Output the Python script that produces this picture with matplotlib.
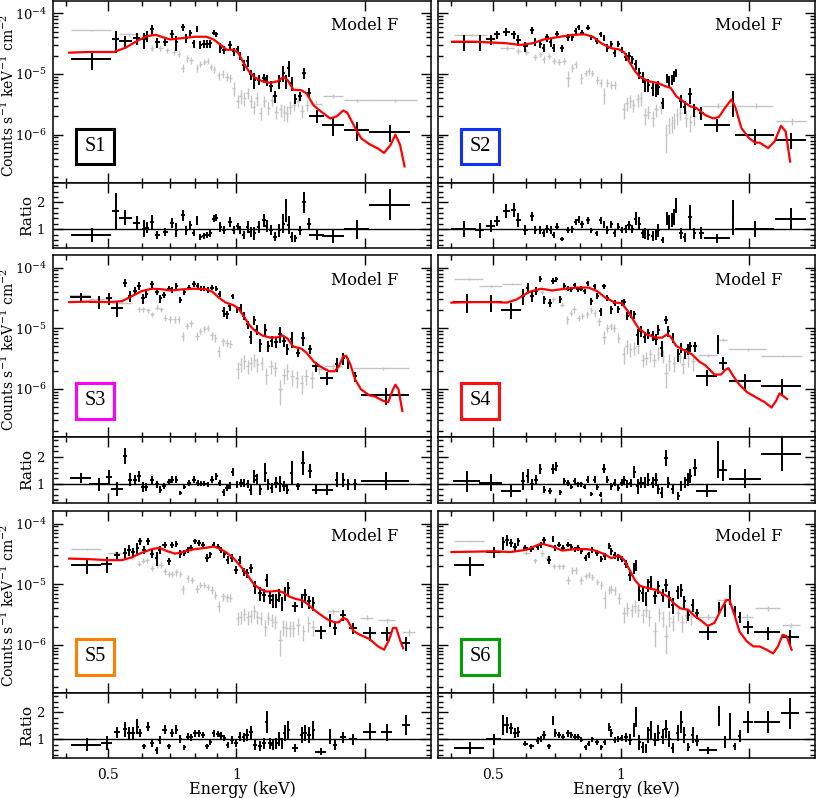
import matplotlib
matplotlib.use("Agg")
import matplotlib.pyplot as plt
import numpy as np
from matplotlib.ticker import FixedLocator, NullFormatter, FixedFormatter, LogLocator, MultipleLocator

plt.rcParams['font.family'] = 'DejaVu Serif'
plt.rcParams['mathtext.fontset'] = 'dejavuserif'

# ---------------- S1 ----------------
s1_E = [0.460, 0.5215, 0.550, 0.584, 0.607, 0.618, 0.635, 0.653, 0.682, 0.707, 0.724, 0.750, 0.764, 0.781, 0.795, 0.809, 0.824, 0.839, 0.854, 0.870, 0.885, 0.898, 0.917, 0.937, 0.965, 0.986, 1.007, 1.022, 1.040, 1.063, 1.082, 1.102, 1.128, 1.159, 1.179, 1.205, 1.233, 1.262, 1.290, 1.309, 1.327, 1.349, 1.374, 1.411, 1.442, 1.484, 1.543, 1.688, 1.914, 2.298]
s1_dE = [0.050, 0.010, 0.020, 0.012, 0.006, 0.006, 0.007, 0.009, 0.010, 0.008, 0.007, 0.008, 0.006, 0.007, 0.006, 0.006, 0.007, 0.007, 0.007, 0.007, 0.006, 0.006, 0.008, 0.009, 0.010, 0.008, 0.007, 0.006, 0.008, 0.009, 0.008, 0.009, 0.011, 0.012, 0.009, 0.011, 0.011, 0.012, 0.008, 0.008, 0.009, 0.010, 0.012, 0.014, 0.013, 0.016, 0.062, 0.100, 0.130, 0.250]
s1_cts = [1.78e-5, 3.7e-5, 3.5e-5, 3.9e-5, 3.7e-5, 4.2e-5, 5.4e-5, 3.3e-5, 3.4e-5, 4.6e-5, 3.3e-5, 5.9e-5, 3.9e-5, 4.8e-5, 3.2e-5, 5.6e-5, 3.0e-5, 3.1e-5, 3.1e-5, 3.2e-5, 4.8e-5, 4.5e-5, 2.7e-5, 2.5e-5, 3.0e-5, 2.35e-5, 2.6e-5, 2.0e-5, 1.4e-5, 1.63e-5, 9.8e-6, 8.1e-6, 8.1e-6, 8.6e-6, 7.9e-6, 6.3e-6, 4.3e-6, 7.6e-6, 1.04e-5, 7.6e-6, 1.26e-5, 7.1e-6, 3.9e-6, 4.3e-6, 1.04e-5, 4.9e-6, 2.05e-6, 1.46e-6, 1.2e-6, 1.1e-6]
s1_rel = [0.35, 0.4, 0.2, 0.22, 0.3, 0.2, 0.2, 0.18, 0.15, 0.15, 0.28, 0.13, 0.18, 0.12, 0.15, 0.12, 0.15, 0.15, 0.15, 0.15, 0.1, 0.1, 0.18, 0.15, 0.15, 0.15, 0.1, 0.15, 0.2, 0.2, 0.2, 0.3, 0.2, 0.18, 0.2, 0.2, 0.22, 0.25, 0.3, 0.25, 0.3, 0.25, 0.18, 0.18, 0.2, 0.18, 0.25, 0.35, 0.35, 0.3]
s1_ratio = [0.78, 1.67, 1.43, 1.23, 1.02, 1.06, 1.27, 0.78, 0.90, 1.23, 0.96, 1.51, 0.96, 1.15, 0.87, 1.33, 0.72, 0.74, 0.78, 0.84, 1.39, 1.43, 1.09, 0.96, 1.27, 0.96, 1.11, 0.96, 0.78, 1.09, 0.90, 0.84, 1.09, 1.33, 1.11, 0.96, 0.72, 0.96, 1.21, 1.70, 1.15, 0.72, 0.66, 0.96, 2.0, 1.21, 0.78, 0.74, 0.99, 1.91]
s1_gE = [0.46, 0.56, 0.635, 0.664, 0.689, 0.714, 0.733, 0.750, 0.767, 0.784, 0.809, 0.824, 0.842, 0.857, 0.873, 0.888, 0.909, 0.929, 0.951, 0.968, 0.986, 1.007, 1.025, 1.044, 1.063, 1.082, 1.098, 1.118, 1.142, 1.163, 1.190, 1.211, 1.240, 1.271, 1.294, 1.313, 1.337, 1.366, 1.398, 1.426, 1.463, 1.537, 1.688, 1.914, 2.35]
s1_gdE = [0.05, 0.03, 0.006, 0.008, 0.008, 0.008, 0.006, 0.006, 0.006, 0.007, 0.006, 0.006, 0.006, 0.006, 0.006, 0.006, 0.008, 0.008, 0.008, 0.008, 0.008, 0.008, 0.008, 0.008, 0.008, 0.008, 0.008, 0.009, 0.01, 0.01, 0.01, 0.01, 0.012, 0.012, 0.01, 0.01, 0.012, 0.012, 0.014, 0.014, 0.016, 0.05, 0.09, 0.13, 0.3]
s1_gcts = [5.2e-5, 4.5e-5, 2.7e-5, 2.7e-5, 2.45e-5, 2.3e-5, 2.15e-5, 1.26e-5, 1.8e-5, 1.68e-5, 1.26e-5, 1.47e-5, 1.6e-5, 1.63e-5, 1.3e-5, 1.19e-5, 9.5e-6, 1.0e-5, 8.9e-6, 8.6e-6, 5.8e-6, 3.6e-6, 4.3e-6, 4.0e-6, 4.9e-6, 3.6e-6, 2.9e-6, 4.0e-6, 2.3e-6, 3.6e-6, 2.8e-6, 3.7e-6, 2.4e-6, 2.6e-6, 2.4e-6, 2.3e-6, 2.9e-6, 3.1e-6, 3.6e-6, 2.5e-6, 3.1e-6, 3.2e-6, 4.4e-6, 3.7e-6, 3.7e-6]
s1_grel = [0.03, 0.06, 0.1, 0.1, 0.1, 0.1, 0.1, 0.15, 0.12, 0.12, 0.15, 0.12, 0.12, 0.12, 0.12, 0.12, 0.15, 0.15, 0.15, 0.15, 0.25, 0.25, 0.25, 0.25, 0.2, 0.25, 0.25, 0.25, 0.25, 0.2, 0.25, 0.2, 0.25, 0.25, 0.3, 0.3, 0.25, 0.2, 0.2, 0.25, 0.2, 0.15, 0.08, 0.06, 0.05]
s1_mE = [0.406, 0.45, 0.517, 0.55, 0.59, 0.62, 0.647, 0.675, 0.70, 0.75, 0.80, 0.85, 0.885, 0.92, 0.95, 0.985, 1.01, 1.04, 1.07, 1.10, 1.15, 1.20, 1.25, 1.29, 1.32, 1.36, 1.42, 1.46, 1.52, 1.58, 1.66, 1.72, 1.78, 1.82, 1.90, 1.96, 2.05, 2.15, 2.22, 2.30, 2.36, 2.42, 2.48]
s1_mcts = [2.24e-5, 2.3e-5, 2.3e-5, 2.7e-5, 3.6e-5, 4.2e-5, 4.4e-5, 4.0e-5, 3.7e-5, 3.9e-5, 4.1e-5, 4.1e-5, 3.7e-5, 3.0e-5, 2.5e-5, 2.5e-5, 2.24e-5, 1.53e-5, 1.11e-5, 8.9e-6, 7.6e-6, 7.1e-6, 7.6e-6, 8.9e-6, 7.9e-6, 5.5e-6, 5.4e-6, 4.8e-6, 3.0e-6, 2.4e-6, 1.85e-6, 2.0e-6, 2.5e-6, 2.3e-6, 1.29e-6, 8.8e-7, 7.0e-7, 5.9e-7, 5.0e-7, 6.8e-7, 1.0e-6, 6.8e-7, 3.0e-7]

# ---------------- S2 ----------------
s2_E = [0.428, 0.466, 0.495, 0.513, 0.538, 0.56, 0.575, 0.597, 0.619, 0.630, 0.647, 0.659, 0.671, 0.684, 0.696, 0.709, 0.728, 0.751, 0.769, 0.783, 0.797, 0.812, 0.837, 0.853, 0.878, 0.897, 0.913, 0.93, 0.951, 0.968, 0.986, 1.004, 1.028, 1.046, 1.065, 1.085, 1.105, 1.125, 1.139, 1.16, 1.188, 1.21, 1.226, 1.254, 1.284, 1.30, 1.317, 1.336, 1.349, 1.385, 1.415, 1.457, 1.489, 1.545, 1.686, 1.836, 2.072, 2.512]
s2_dE = [0.028, 0.012, 0.012, 0.008, 0.01, 0.008, 0.007, 0.008, 0.006, 0.006, 0.006, 0.006, 0.006, 0.006, 0.006, 0.007, 0.008, 0.008, 0.007, 0.007, 0.007, 0.008, 0.008, 0.008, 0.008, 0.007, 0.007, 0.008, 0.008, 0.008, 0.008, 0.008, 0.009, 0.009, 0.009, 0.009, 0.009, 0.009, 0.008, 0.01, 0.01, 0.009, 0.009, 0.012, 0.008, 0.007, 0.007, 0.007, 0.007, 0.012, 0.012, 0.015, 0.012, 0.02, 0.115, 0.012, 0.215, 0.205]
s2_cts = [3.4e-5, 3.4e-5, 3.7e-5, 4.5e-5, 4.9e-5, 4.5e-5, 3.6e-5, 2.85e-5, 5.2e-5, 3.4e-5, 3.1e-5, 2.7e-5, 4.0e-5, 3.3e-5, 2.7e-5, 4.5e-5, 2.65e-5, 4.0e-5, 4.0e-5, 5.1e-5, 5.9e-5, 4.8e-5, 5.8e-5, 4.0e-5, 3.5e-5, 4.5e-5, 3.9e-5, 2.7e-5, 3.1e-5, 2.2e-5, 3.1e-5, 2.5e-5, 1.9e-5, 2.0e-5, 1.74e-5, 1.44e-5, 1.04e-5, 8.9e-6, 6.7e-6, 6.7e-6, 5.8e-6, 5.5e-6, 6.1e-6, 3.3e-6, 8.6e-6, 7.6e-6, 8.1e-6, 9.2e-6, 1.04e-5, 3.6e-6, 2.9e-6, 4.6e-6, 2.6e-6, 2.3e-6, 1.46e-6, 3.6e-6, 9.7e-7, 8.3e-7]
s2_rel = [0.3, 0.3, 0.2, 0.15, 0.15, 0.15, 0.2, 0.2, 0.12, 0.15, 0.15, 0.15, 0.15, 0.15, 0.15, 0.12, 0.12, 0.12, 0.12, 0.1, 0.1, 0.1, 0.1, 0.1, 0.12, 0.1, 0.12, 0.15, 0.12, 0.15, 0.12, 0.12, 0.15, 0.15, 0.15, 0.18, 0.2, 0.2, 0.25, 0.25, 0.25, 0.25, 0.25, 0.2, 0.18, 0.2, 0.2, 0.2, 0.15, 0.25, 0.25, 0.3, 0.25, 0.25, 0.25, 0.45, 0.3, 0.3]
s2_ratio = [0.99, 0.96, 1.11, 1.30, 1.67, 1.72, 1.33, 0.96, 1.48, 0.96, 0.96, 0.84, 0.99, 0.96, 0.78, 1.09, 0.62, 0.96, 0.99, 1.27, 1.35, 1.18, 1.33, 0.96, 0.84, 1.33, 1.18, 0.96, 1.18, 0.84, 1.09, 0.96, 1.02, 1.15, 1.02, 1.39, 1.21, 0.84, 0.84, 0.78, 0.74, 0.78, 0.96, 0.60, 1.39, 1.27, 1.33, 1.45, 1.88, 0.84, 0.70, 1.45, 0.84, 0.87, 0.66, 1.45, 0.99, 1.39]
s2_gE = [0.446, 0.50, 0.54, 0.575, 0.60, 0.63, 0.647, 0.659, 0.677, 0.696, 0.715, 0.735, 0.751, 0.769, 0.783, 0.808, 0.827, 0.841, 0.857, 0.881, 0.897, 0.913, 0.930, 0.951, 0.968, 1.015, 1.033, 1.052, 1.071, 1.095, 1.115, 1.14, 1.16, 1.188, 1.21, 1.243, 1.277, 1.30, 1.317, 1.336, 1.356, 1.381, 1.424, 1.457, 1.489, 1.69, 2.08, 2.52]
s2_gdE = [0.04, 0.02, 0.02, 0.008, 0.008, 0.007, 0.006, 0.006, 0.007, 0.007, 0.007, 0.007, 0.007, 0.007, 0.007, 0.008, 0.007, 0.007, 0.007, 0.008, 0.007, 0.007, 0.008, 0.008, 0.008, 0.008, 0.008, 0.008, 0.008, 0.009, 0.009, 0.01, 0.01, 0.01, 0.01, 0.012, 0.01, 0.008, 0.008, 0.008, 0.008, 0.012, 0.014, 0.014, 0.015, 0.14, 0.2, 0.2]
s2_gcts = [4.4e-5, 3.2e-5, 2.7e-5, 2.4e-5, 2.3e-5, 1.9e-5, 2.1e-5, 1.74e-5, 2.0e-5, 1.63e-5, 1.6e-5, 1.63e-5, 8.6e-6, 1.26e-5, 1.44e-5, 8.6e-6, 1.04e-5, 1.11e-5, 1.04e-5, 8.1e-6, 7.1e-6, 4.5e-6, 7.1e-6, 6.7e-6, 6.7e-6, 2.6e-6, 3.3e-6, 3.6e-6, 3.1e-6, 3.8e-6, 4.0e-6, 2.1e-6, 2.4e-6, 1.9e-6, 2.6e-6, 2.9e-6, 1.0e-6, 1.46e-6, 1.55e-6, 1.75e-6, 2.1e-6, 2.3e-6, 1.9e-6, 1.6e-6, 2.0e-6, 3.0e-6, 3.0e-6, 1.66e-6]
s2_grel = [0.04, 0.06, 0.08, 0.1, 0.1, 0.12, 0.1, 0.12, 0.12, 0.12, 0.12, 0.12, 0.3, 0.15, 0.12, 0.2, 0.12, 0.12, 0.12, 0.15, 0.15, 0.3, 0.15, 0.15, 0.15, 0.3, 0.25, 0.25, 0.25, 0.25, 0.25, 0.3, 0.25, 0.3, 0.25, 0.25, 0.5, 0.3, 0.3, 0.3, 0.3, 0.25, 0.3, 0.3, 0.3, 0.1, 0.1, 0.12]
s2_mE = [0.402, 0.45, 0.50, 0.54, 0.58, 0.62, 0.66, 0.72, 0.77, 0.82, 0.86, 0.90, 0.95, 0.99, 1.02, 1.05, 1.08, 1.11, 1.16, 1.22, 1.27, 1.31, 1.35, 1.42, 1.46, 1.50, 1.58, 1.65, 1.70, 1.76, 1.82, 1.86, 1.92, 2.00, 2.07, 2.12, 2.22, 2.30, 2.38, 2.44, 2.50]
s2_mcts = [3.4e-5, 3.4e-5, 3.3e-5, 3.2e-5, 3.0e-5, 3.2e-5, 3.7e-5, 4.1e-5, 4.4e-5, 4.5e-5, 4.1e-5, 3.2e-5, 2.65e-5, 2.55e-5, 2.24e-5, 1.53e-5, 1.11e-5, 8.9e-6, 7.6e-6, 7.1e-6, 6.3e-6, 5.9e-6, 4.3e-6, 3.3e-6, 2.9e-6, 2.8e-6, 2.1e-6, 1.85e-6, 1.95e-6, 2.8e-6, 3.8e-6, 2.8e-6, 1.29e-6, 8.8e-7, 7.4e-7, 7.4e-7, 6.0e-7, 7.8e-7, 1.4e-6, 1.13e-6, 3.6e-7]

# ---------------- S3 ----------------
s3_E = [0.432, 0.477, 0.503, 0.526, 0.550, 0.563, 0.578, 0.591, 0.605, 0.616, 0.635, 0.651, 0.664, 0.676, 0.695, 0.707, 0.724, 0.740, 0.756, 0.774, 0.795, 0.812, 0.827, 0.842, 0.857, 0.877, 0.898, 0.914, 0.934, 0.951, 0.965, 0.982, 1.004, 1.025, 1.040, 1.063, 1.082, 1.102, 1.118, 1.138, 1.169, 1.190, 1.211, 1.240, 1.267, 1.294, 1.318, 1.349, 1.398, 1.436, 1.489, 1.537, 1.628, 1.719, 1.780, 1.830, 1.897, 2.249]
s3_dE = [0.024, 0.025, 0.008, 0.017, 0.006, 0.006, 0.006, 0.006, 0.006, 0.006, 0.007, 0.007, 0.006, 0.007, 0.007, 0.007, 0.007, 0.007, 0.007, 0.008, 0.008, 0.008, 0.007, 0.007, 0.007, 0.008, 0.008, 0.007, 0.008, 0.008, 0.008, 0.008, 0.008, 0.008, 0.008, 0.009, 0.009, 0.009, 0.009, 0.01, 0.01, 0.01, 0.01, 0.011, 0.011, 0.011, 0.011, 0.012, 0.014, 0.016, 0.016, 0.035, 0.06, 0.012, 0.014, 0.015, 0.02, 0.29]
s3_cts = [3.3e-5, 2.75e-5, 3.1e-5, 2.15e-5, 5.6e-5, 3.4e-5, 4.1e-5, 5.0e-5, 3.1e-5, 3.7e-5, 5.3e-5, 4.0e-5, 3.1e-5, 3.6e-5, 4.5e-5, 4.3e-5, 5.0e-5, 2.95e-5, 4.0e-5, 4.7e-5, 5.4e-5, 5.0e-5, 4.5e-5, 4.5e-5, 4.3e-5, 4.7e-5, 4.5e-5, 3.7e-5, 1.9e-5, 1.7e-5, 2.3e-5, 3.4e-5, 2.0e-5, 2.15e-5, 1.6e-5, 1.16e-5, 7.2e-6, 1.37e-5, 9.5e-6, 5.4e-6, 9.5e-6, 5.1e-6, 6.1e-6, 5.9e-6, 8.0e-6, 6.1e-6, 4.5e-6, 6.7e-6, 3.9e-6, 6.9e-6, 4.5e-6, 2.35e-6, 1.52e-6, 2.55e-6, 3.2e-6, 2.7e-6, 1.6e-6, 7.8e-7]
s3_rel = [0.15, 0.25, 0.22, 0.3, 0.15, 0.2, 0.15, 0.15, 0.2, 0.15, 0.12, 0.12, 0.15, 0.12, 0.1, 0.1, 0.1, 0.12, 0.1, 0.1, 0.1, 0.1, 0.1, 0.1, 0.1, 0.1, 0.1, 0.1, 0.18, 0.15, 0.15, 0.1, 0.12, 0.15, 0.15, 0.15, 0.25, 0.18, 0.18, 0.25, 0.25, 0.2, 0.2, 0.2, 0.3, 0.2, 0.2, 0.3, 0.15, 0.25, 0.18, 0.2, 0.25, 0.25, 0.22, 0.2, 0.2, 0.3]
s3_ratio = [1.22, 0.98, 1.25, 0.81, 2.02, 1.16, 1.16, 1.28, 0.89, 0.89, 1.14, 0.98, 0.79, 0.91, 1.06, 1.16, 1.16, 0.67, 0.89, 1.04, 1.16, 1.04, 1.01, 1.01, 0.98, 1.16, 1.28, 1.04, 0.69, 0.85, 0.94, 1.43, 0.98, 1.04, 1.04, 0.98, 0.79, 1.28, 1.16, 0.81, 1.41, 0.98, 0.85, 1.04, 0.98, 0.91, 0.79, 1.41, 0.91, 1.78, 1.47, 0.79, 0.79, 1.16, 1.14, 0.98, 0.98, 1.10]
s3_gE = [0.43, 0.477, 0.54, 0.591, 0.605, 0.62, 0.635, 0.653, 0.667, 0.682, 0.70, 0.717, 0.733, 0.75, 0.767, 0.784, 0.809, 0.824, 0.842, 0.857, 0.877, 0.893, 0.909, 0.931, 0.951, 0.968, 1.007, 1.025, 1.044, 1.063, 1.082, 1.102, 1.12, 1.148, 1.175, 1.205, 1.233, 1.267, 1.294, 1.318, 1.349, 1.386, 1.423, 1.457, 1.502, 1.56, 1.688, 2.21]
s3_gdE = [0.024, 0.025, 0.03, 0.006, 0.006, 0.007, 0.007, 0.007, 0.007, 0.007, 0.007, 0.007, 0.007, 0.006, 0.007, 0.007, 0.007, 0.007, 0.007, 0.007, 0.008, 0.008, 0.008, 0.008, 0.008, 0.008, 0.008, 0.008, 0.008, 0.008, 0.008, 0.009, 0.009, 0.01, 0.01, 0.012, 0.012, 0.012, 0.012, 0.012, 0.013, 0.013, 0.014, 0.015, 0.016, 0.04, 0.08, 0.33]
s3_gcts = [3.6e-5, 3.0e-5, 2.65e-5, 2.05e-5, 2.05e-5, 2.0e-5, 1.7e-5, 2.2e-5, 2.05e-5, 1.5e-5, 1.4e-5, 1.4e-5, 1.4e-5, 7.4e-6, 1.11e-5, 1.2e-5, 7.4e-6, 9.0e-6, 9.8e-6, 1.01e-5, 7.6e-6, 7.0e-6, 4.2e-6, 6.1e-6, 5.8e-6, 5.5e-6, 2.1e-6, 2.55e-6, 2.85e-6, 2.35e-6, 2.7e-6, 3.0e-6, 2.55e-6, 2.7e-6, 1.72e-6, 2.35e-6, 2.2e-6, 9.8e-7, 1.72e-6, 2.0e-6, 1.6e-6, 1.5e-6, 1.25e-6, 1.65e-6, 1.5e-6, 2.1e-6, 2.35e-6, 2.2e-6]
s3_grel = [0.04, 0.05, 0.05, 0.1, 0.1, 0.1, 0.1, 0.1, 0.1, 0.12, 0.12, 0.12, 0.12, 0.18, 0.12, 0.12, 0.15, 0.12, 0.12, 0.12, 0.15, 0.15, 0.2, 0.15, 0.15, 0.15, 0.3, 0.25, 0.25, 0.25, 0.25, 0.25, 0.25, 0.25, 0.3, 0.25, 0.25, 0.45, 0.3, 0.3, 0.3, 0.3, 0.35, 0.3, 0.3, 0.15, 0.1, 0.06]
s3_mE = [0.406, 0.45, 0.50, 0.54, 0.57, 0.60, 0.635, 0.67, 0.70, 0.75, 0.80, 0.85, 0.88, 0.91, 0.945, 0.985, 1.01, 1.04, 1.07, 1.10, 1.15, 1.20, 1.25, 1.285, 1.32, 1.36, 1.42, 1.46, 1.52, 1.58, 1.65, 1.70, 1.74, 1.78, 1.81, 1.85, 1.90, 1.96, 2.05, 2.12, 2.20, 2.27, 2.33, 2.36, 2.40, 2.45]
s3_mcts = [2.7e-5, 2.75e-5, 2.7e-5, 2.8e-5, 3.4e-5, 4.1e-5, 4.5e-5, 4.4e-5, 4.2e-5, 4.4e-5, 4.5e-5, 4.4e-5, 4.0e-5, 3.2e-5, 2.65e-5, 2.4e-5, 2.15e-5, 1.6e-5, 1.16e-5, 9.4e-6, 7.6e-6, 7.0e-6, 7.1e-6, 7.6e-6, 6.7e-6, 5.0e-6, 4.6e-6, 3.95e-6, 2.8e-6, 2.3e-6, 1.95e-6, 1.95e-6, 2.35e-6, 3.4e-6, 3.5e-6, 2.55e-6, 1.42e-6, 9.8e-7, 7.8e-7, 7.4e-7, 6.4e-7, 6.0e-7, 9.8e-7, 1.17e-6, 9.8e-7, 4.3e-7]

# ---------------- S4 ----------------
s4_E = [0.436, 0.495, 0.552, 0.589, 0.604, 0.619, 0.633, 0.647, 0.661, 0.681, 0.693, 0.706, 0.721, 0.737, 0.751, 0.765, 0.779, 0.793, 0.808, 0.822, 0.837, 0.853, 0.868, 0.881, 0.897, 0.913, 0.93, 0.951, 0.968, 0.986, 1.004, 1.018, 1.037, 1.056, 1.075, 1.095, 1.115, 1.139, 1.16, 1.188, 1.21, 1.226, 1.247, 1.277, 1.294, 1.324, 1.366, 1.386, 1.416, 1.436, 1.457, 1.496, 1.596, 1.692, 1.738, 1.962, 2.396]
s4_dE = [0.032, 0.03, 0.03, 0.007, 0.006, 0.006, 0.006, 0.006, 0.006, 0.008, 0.006, 0.006, 0.007, 0.007, 0.007, 0.007, 0.007, 0.007, 0.007, 0.007, 0.007, 0.007, 0.007, 0.007, 0.008, 0.008, 0.008, 0.009, 0.008, 0.008, 0.008, 0.008, 0.009, 0.009, 0.009, 0.009, 0.01, 0.01, 0.01, 0.011, 0.01, 0.01, 0.01, 0.012, 0.01, 0.012, 0.014, 0.01, 0.01, 0.01, 0.01, 0.014, 0.09, 0.01, 0.04, 0.17, 0.26]
s4_cts = [2.7e-5, 2.7e-5, 2.0e-5, 3.4e-5, 4.7e-5, 3.4e-5, 4.1e-5, 6.5e-5, 3.0e-5, 2.65e-5, 6.1e-5, 6.5e-5, 3.0e-5, 4.9e-5, 4.5e-5, 4.4e-5, 5.1e-5, 4.4e-5, 4.5e-5, 4.1e-5, 5.5e-5, 2.8e-5, 4.9e-5, 3.4e-5, 1.9e-5, 4.9e-5, 3.2e-5, 2.05e-5, 2.65e-5, 2.05e-5, 2.65e-5, 2.7e-5, 1.6e-5, 1.76e-5, 1.7e-5, 7.6e-6, 9.0e-6, 7.2e-6, 8.2e-6, 7.6e-6, 6.7e-6, 9.5e-6, 4.8e-6, 1.37e-5, 9.0e-6, 7.0e-6, 3.7e-6, 4.8e-6, 3.85e-6, 4.5e-6, 5.0e-6, 5.0e-6, 1.6e-6, 5.8e-6, 2.7e-6, 1.36e-6, 1.1e-6]
s4_rel = [0.35, 0.3, 0.3, 0.3, 0.2, 0.2, 0.15, 0.12, 0.15, 0.15, 0.12, 0.1, 0.12, 0.12, 0.1, 0.1, 0.1, 0.1, 0.1, 0.1, 0.1, 0.12, 0.1, 0.12, 0.15, 0.1, 0.12, 0.15, 0.12, 0.12, 0.12, 0.12, 0.15, 0.15, 0.15, 0.3, 0.2, 0.2, 0.2, 0.2, 0.2, 0.2, 0.3, 0.15, 0.2, 0.2, 0.25, 0.2, 0.2, 0.2, 0.2, 0.2, 0.3, 0.35, 0.25, 0.3, 0.3]
s4_ratio = [1.10, 1.04, 0.73, 1.10, 1.28, 0.98, 1.16, 1.53, 0.79, 0.73, 1.56, 1.65, 0.69, 1.10, 1.04, 0.89, 1.10, 0.98, 0.98, 0.89, 1.16, 0.64, 1.16, 0.89, 0.60, 1.56, 1.16, 0.91, 1.04, 0.85, 1.04, 1.14, 0.98, 1.04, 1.43, 0.91, 1.04, 1.04, 1.16, 1.04, 1.16, 0.81, 0.67, 1.96, 1.04, 0.81, 0.57, 0.91, 1.04, 1.16, 1.28, 1.59, 0.73, 1.9, 1.5, 1.19, 2.09]
s4_gE = [0.44, 0.495, 0.555, 0.604, 0.653, 0.693, 0.728, 0.748, 0.762, 0.776, 0.797, 0.812, 0.834, 0.853, 0.868, 0.889, 0.913, 0.930, 0.947, 0.964, 0.986, 1.015, 1.033, 1.052, 1.075, 1.095, 1.125, 1.146, 1.173, 1.198, 1.226, 1.254, 1.277, 1.30, 1.336, 1.374, 1.40, 1.437, 1.478, 1.60, 1.738, 1.99, 2.40]
s4_gdE = [0.035, 0.03, 0.03, 0.007, 0.008, 0.008, 0.007, 0.006, 0.006, 0.007, 0.007, 0.007, 0.007, 0.007, 0.007, 0.008, 0.008, 0.008, 0.008, 0.008, 0.008, 0.008, 0.008, 0.008, 0.009, 0.009, 0.01, 0.01, 0.01, 0.011, 0.011, 0.011, 0.011, 0.012, 0.014, 0.014, 0.012, 0.016, 0.016, 0.08, 0.04, 0.2, 0.26]
s4_gcts = [6.5e-5, 5.0e-5, 5.3e-5, 4.0e-5, 4.0e-5, 3.0e-5, 2.45e-5, 1.4e-5, 1.8e-5, 2.05e-5, 1.5e-5, 1.6e-5, 1.7e-5, 2.0e-5, 1.76e-5, 1.3e-5, 7.2e-6, 1.01e-5, 1.08e-5, 1.01e-5, 7.0e-6, 3.7e-6, 5.1e-6, 4.5e-6, 4.8e-6, 5.1e-6, 3.0e-6, 3.25e-6, 3.7e-6, 3.0e-6, 3.95e-6, 3.5e-6, 1.85e-6, 2.85e-6, 2.7e-6, 3.5e-6, 2.55e-6, 3.25e-6, 2.85e-6, 3.6e-6, 6.5e-6, 4.5e-6, 3.5e-6]
s4_grel = [0.03, 0.04, 0.04, 0.08, 0.08, 0.1, 0.1, 0.15, 0.12, 0.12, 0.12, 0.12, 0.12, 0.12, 0.12, 0.15, 0.25, 0.15, 0.15, 0.15, 0.2, 0.3, 0.25, 0.25, 0.25, 0.25, 0.25, 0.25, 0.25, 0.25, 0.25, 0.25, 0.45, 0.3, 0.3, 0.25, 0.3, 0.3, 0.3, 0.06, 0.05, 0.05, 0.05]
s4_mE = [0.40, 0.45, 0.50, 0.54, 0.57, 0.61, 0.65, 0.69, 0.74, 0.79, 0.84, 0.88, 0.92, 0.97, 1.005, 1.04, 1.07, 1.10, 1.15, 1.21, 1.25, 1.285, 1.31, 1.35, 1.42, 1.47, 1.53, 1.58, 1.66, 1.72, 1.76, 1.79, 1.84, 1.90, 1.98, 2.08, 2.18, 2.26, 2.32, 2.36, 2.40, 2.46]
s4_mcts = [2.65e-5, 2.7e-5, 2.7e-5, 2.65e-5, 3.0e-5, 4.0e-5, 4.5e-5, 4.2e-5, 4.5e-5, 4.7e-5, 4.7e-5, 4.1e-5, 3.2e-5, 2.65e-5, 2.6e-5, 1.9e-5, 1.37e-5, 1.01e-5, 7.9e-6, 7.0e-6, 7.0e-6, 7.9e-6, 7.2e-6, 5.1e-6, 4.2e-6, 3.7e-6, 2.8e-6, 2.45e-6, 1.72e-6, 1.72e-6, 2.05e-6, 2.2e-6, 1.6e-6, 1.17e-6, 8.8e-7, 7.2e-7, 6.0e-7, 4.9e-7, 6.4e-7, 8.4e-7, 7.7e-7, 6.8e-7]

# ---------------- S5 ----------------
s5_E = [0.446, 0.497, 0.526, 0.548, 0.561, 0.574, 0.586, 0.595, 0.607, 0.621, 0.635, 0.651, 0.662, 0.679, 0.695, 0.707, 0.724, 0.740, 0.756, 0.770, 0.784, 0.801, 0.819, 0.836, 0.854, 0.870, 0.885, 0.905, 0.921, 0.937, 0.954, 0.977, 1.000, 1.018, 1.040, 1.059, 1.082, 1.108, 1.134, 1.159, 1.179, 1.200, 1.218, 1.240, 1.262, 1.280, 1.300, 1.325, 1.374, 1.423, 1.450, 1.484, 1.515, 1.577, 1.659, 1.703, 1.780, 1.878, 2.055, 2.25, 2.50]
s5_dE = [0.035, 0.015, 0.008, 0.006, 0.006, 0.006, 0.005, 0.005, 0.006, 0.006, 0.007, 0.006, 0.006, 0.008, 0.007, 0.006, 0.007, 0.007, 0.007, 0.006, 0.007, 0.008, 0.008, 0.008, 0.008, 0.007, 0.008, 0.009, 0.008, 0.008, 0.009, 0.01, 0.01, 0.009, 0.01, 0.01, 0.01, 0.012, 0.012, 0.012, 0.01, 0.01, 0.009, 0.01, 0.01, 0.009, 0.01, 0.012, 0.02, 0.012, 0.014, 0.016, 0.014, 0.045, 0.012, 0.015, 0.025, 0.04, 0.07, 0.07, 0.06]
s5_cts = [2.1e-5, 2.2e-5, 3.0e-5, 3.3e-5, 3.7e-5, 3.4e-5, 4.0e-5, 5.1e-5, 3.7e-5, 5.1e-5, 3.2e-5, 2.7e-5, 3.7e-5, 4.5e-5, 2.4e-5, 4.5e-5, 4.7e-5, 3.2e-5, 3.3e-5, 3.7e-5, 4.0e-5, 5.1e-5, 4.8e-5, 4.5e-5, 2.7e-5, 3.1e-5, 4.5e-5, 4.2e-5, 3.7e-5, 3.1e-5, 2.5e-5, 2.7e-5, 1.74e-5, 2.5e-5, 1.63e-5, 1.53e-5, 1.85e-5, 9.2e-6, 7.1e-6, 6.7e-6, 1.19e-5, 6.3e-6, 5.5e-6, 5.5e-6, 6.7e-6, 4.9e-6, 7.1e-6, 8.6e-6, 4.3e-6, 5.5e-6, 6.7e-6, 5.2e-6, 4.9e-6, 1.66e-6, 2.6e-6, 1.9e-6, 3.1e-6, 1.9e-6, 1.55e-6, 1.55e-6, 1.07e-6]
s5_rel = [0.3, 0.3, 0.15, 0.2, 0.2, 0.18, 0.2, 0.12, 0.15, 0.12, 0.15, 0.25, 0.15, 0.12, 0.15, 0.12, 0.12, 0.15, 0.12, 0.12, 0.12, 0.1, 0.1, 0.1, 0.15, 0.12, 0.1, 0.1, 0.12, 0.12, 0.15, 0.15, 0.15, 0.15, 0.15, 0.18, 0.18, 0.25, 0.25, 0.25, 0.25, 0.25, 0.25, 0.25, 0.25, 0.25, 0.25, 0.25, 0.2, 0.25, 0.25, 0.25, 0.25, 0.25, 0.25, 0.25, 0.2, 0.2, 0.25, 0.25, 0.25]
s5_ratio = [0.79, 0.85, 1.25, 1.37, 1.22, 1.22, 1.47, 1.22, 0.73, 1.47, 0.85, 0.58, 0.98, 1.35, 0.73, 1.22, 1.35, 1.0, 0.70, 1.10, 1.07, 1.22, 1.22, 1.16, 0.73, 0.88, 1.22, 1.20, 1.12, 1.04, 0.79, 0.98, 0.85, 1.10, 1.07, 1.16, 1.25, 0.79, 0.75, 0.85, 1.65, 0.85, 0.79, 0.85, 1.0, 0.85, 1.22, 1.35, 0.67, 1.16, 1.22, 1.16, 1.35, 0.54, 1.10, 0.79, 1.07, 1.0, 1.28, 1.25, 1.53]
s5_gE = [0.446, 0.52, 0.57, 0.591, 0.605, 0.618, 0.635, 0.653, 0.667, 0.682, 0.695, 0.707, 0.724, 0.74, 0.75, 0.77, 0.788, 0.809, 0.824, 0.842, 0.857, 0.877, 0.893, 0.909, 0.931, 0.951, 0.968, 1.007, 1.025, 1.044, 1.063, 1.082, 1.102, 1.12, 1.142, 1.169, 1.19, 1.211, 1.233, 1.267, 1.29, 1.309, 1.333, 1.361, 1.398, 1.436, 1.476, 1.515, 1.688, 2.02, 2.25, 2.54]
s5_gdE = [0.035, 0.02, 0.01, 0.006, 0.006, 0.006, 0.007, 0.007, 0.007, 0.007, 0.006, 0.006, 0.007, 0.006, 0.006, 0.007, 0.007, 0.007, 0.007, 0.007, 0.007, 0.008, 0.008, 0.008, 0.008, 0.008, 0.008, 0.008, 0.008, 0.008, 0.008, 0.008, 0.009, 0.009, 0.01, 0.01, 0.01, 0.01, 0.011, 0.011, 0.01, 0.01, 0.012, 0.012, 0.014, 0.014, 0.015, 0.015, 0.06, 0.07, 0.1, 0.09]
s5_gcts = [3.8e-5, 3.3e-5, 2.7e-5, 2.2e-5, 2.45e-5, 2.5e-5, 1.85e-5, 2.1e-5, 2.1e-5, 1.63e-5, 1.5e-5, 1.5e-5, 1.57e-5, 1.5e-5, 8.3e-6, 1.26e-5, 1.19e-5, 8.3e-6, 9.8e-6, 9.8e-6, 9.0e-6, 8.1e-6, 6.7e-6, 4.4e-6, 6.3e-6, 6.1e-6, 5.9e-6, 2.8e-6, 2.9e-6, 3.25e-6, 2.85e-6, 3.0e-6, 3.6e-6, 2.9e-6, 2.8e-6, 2.0e-6, 2.8e-6, 2.6e-6, 2.4e-6, 1.2e-6, 2.0e-6, 1.9e-6, 1.9e-6, 1.9e-6, 2.1e-6, 1.66e-6, 2.3e-6, 2.0e-6, 3.6e-6, 2.8e-6, 2.55e-6, 1.6e-6]
s5_grel = [0.04, 0.06, 0.08, 0.1, 0.1, 0.1, 0.12, 0.1, 0.1, 0.12, 0.12, 0.12, 0.12, 0.12, 0.18, 0.12, 0.12, 0.15, 0.12, 0.12, 0.12, 0.15, 0.15, 0.2, 0.15, 0.15, 0.15, 0.25, 0.25, 0.25, 0.25, 0.25, 0.25, 0.25, 0.25, 0.3, 0.25, 0.25, 0.25, 0.45, 0.3, 0.3, 0.3, 0.3, 0.3, 0.3, 0.3, 0.3, 0.1, 0.1, 0.1, 0.12]
s5_mE = [0.406, 0.45, 0.50, 0.54, 0.57, 0.60, 0.635, 0.66, 0.69, 0.72, 0.76, 0.80, 0.85, 0.885, 0.92, 0.95, 0.985, 1.01, 1.04, 1.07, 1.10, 1.13, 1.17, 1.21, 1.25, 1.29, 1.33, 1.38, 1.42, 1.46, 1.52, 1.58, 1.64, 1.70, 1.74, 1.78, 1.82, 1.88, 1.95, 2.05, 2.15, 2.22, 2.28, 2.33, 2.37, 2.42, 2.46]
s5_mcts = [2.65e-5, 2.6e-5, 2.5e-5, 2.5e-5, 2.8e-5, 3.3e-5, 3.8e-5, 4.0e-5, 3.5e-5, 3.2e-5, 3.5e-5, 3.8e-5, 4.0e-5, 4.2e-5, 3.8e-5, 3.3e-5, 2.7e-5, 2.2e-5, 1.74e-5, 1.32e-5, 1.0e-5, 8.6e-6, 7.6e-6, 7.6e-6, 7.8e-6, 7.3e-6, 6.3e-6, 5.7e-6, 5.5e-6, 4.9e-6, 3.8e-6, 3.1e-6, 2.6e-6, 2.35e-6, 2.35e-6, 2.8e-6, 2.6e-6, 1.7e-6, 1.46e-6, 1.25e-6, 9.4e-7, 8.3e-7, 1.2e-6, 1.9e-6, 1.9e-6, 1.2e-6, 8.8e-7]

# ---------------- S6 ----------------
s6_E = [0.442, 0.503, 0.53, 0.54, 0.552, 0.565, 0.575, 0.597, 0.616, 0.638, 0.648, 0.661, 0.677, 0.693, 0.702, 0.715, 0.732, 0.751, 0.765, 0.779, 0.793, 0.808, 0.827, 0.841, 0.857, 0.881, 0.90, 0.917, 0.939, 0.951, 0.968, 0.986, 1.004, 1.028, 1.052, 1.075, 1.085, 1.105, 1.125, 1.146, 1.16, 1.177, 1.203, 1.226, 1.254, 1.277, 1.30, 1.324, 1.36, 1.386, 1.411, 1.442, 1.476, 1.512, 1.607, 1.698, 1.759, 1.81, 1.852, 1.902, 1.99, 2.212, 2.498]
s6_dE = [0.036, 0.02, 0.005, 0.005, 0.006, 0.006, 0.006, 0.008, 0.008, 0.006, 0.006, 0.007, 0.007, 0.005, 0.005, 0.007, 0.008, 0.007, 0.007, 0.007, 0.007, 0.008, 0.008, 0.007, 0.008, 0.009, 0.008, 0.008, 0.008, 0.007, 0.008, 0.008, 0.008, 0.01, 0.01, 0.006, 0.006, 0.01, 0.01, 0.009, 0.008, 0.01, 0.012, 0.01, 0.012, 0.011, 0.011, 0.012, 0.012, 0.011, 0.012, 0.014, 0.014, 0.016, 0.08, 0.01, 0.01, 0.01, 0.012, 0.012, 0.05, 0.16, 0.12]
s6_cts = [2.1e-5, 3.4e-5, 4.9e-5, 5.4e-5, 4.8e-5, 4.1e-5, 5.1e-5, 4.0e-5, 3.8e-5, 4.2e-5, 4.5e-5, 5.3e-5, 2.5e-5, 5.6e-5, 4.0e-5, 4.5e-5, 4.0e-5, 4.5e-5, 4.2e-5, 3.8e-5, 4.0e-5, 3.5e-5, 2.7e-5, 3.1e-5, 3.7e-5, 3.3e-5, 2.6e-5, 2.9e-5, 4.3e-5, 3.5e-5, 3.0e-5, 2.8e-5, 2.6e-5, 2.2e-5, 1.44e-5, 1.85e-5, 2.1e-5, 7.6e-6, 7.3e-6, 5.9e-6, 9.8e-6, 1.11e-5, 6.3e-6, 9.2e-6, 6.7e-6, 9.8e-6, 5.9e-6, 4.6e-6, 7.6e-6, 8.1e-6, 5.2e-6, 3.1e-6, 4.6e-6, 3.3e-6, 1.6e-6, 4.2e-6, 3.8e-6, 7.1e-6, 3.7e-6, 2.9e-6, 2.0e-6, 1.6e-6, 1.36e-6]
s6_rel = [0.35, 0.2, 0.25, 0.2, 0.15, 0.15, 0.15, 0.12, 0.12, 0.12, 0.12, 0.12, 0.15, 0.1, 0.12, 0.1, 0.1, 0.1, 0.1, 0.1, 0.1, 0.1, 0.12, 0.12, 0.1, 0.1, 0.12, 0.12, 0.1, 0.12, 0.12, 0.12, 0.12, 0.15, 0.2, 0.2, 0.2, 0.3, 0.3, 0.25, 0.25, 0.25, 0.25, 0.25, 0.25, 0.25, 0.3, 0.3, 0.25, 0.25, 0.25, 0.2, 0.25, 0.2, 0.25, 0.2, 0.25, 0.35, 0.2, 0.2, 0.25, 0.25, 0.3]
s6_ratio = [0.67, 1.0, 1.53, 1.53, 1.41, 1.22, 1.28, 0.83, 0.73, 0.95, 1.0, 1.16, 0.73, 1.69, 1.22, 1.16, 1.07, 1.22, 1.16, 1.10, 1.07, 0.98, 0.70, 0.83, 1.0, 0.88, 0.70, 0.91, 1.47, 1.22, 0.98, 1.0, 1.04, 1.07, 0.98, 1.35, 1.84, 0.88, 0.70, 0.67, 1.16, 1.35, 0.98, 1.22, 1.10, 1.37, 1.0, 0.67, 1.22, 1.65, 1.16, 0.70, 1.16, 0.95, 0.58, 1.86, 0.91, 1.47, 0.73, 1.12, 1.65, 1.65, 1.96]
s6_gE = [0.442, 0.503, 0.60, 0.63, 0.653, 0.67, 0.696, 0.715, 0.732, 0.751, 0.769, 0.783, 0.805, 0.827, 0.841, 0.857, 0.881, 0.90, 0.917, 0.939, 0.951, 0.968, 0.991, 1.018, 1.037, 1.06, 1.079, 1.099, 1.125, 1.146, 1.166, 1.203, 1.232, 1.254, 1.277, 1.30, 1.324, 1.36, 1.391, 1.424, 1.463, 1.60, 1.75, 1.98, 2.22, 2.51]
s6_gdE = [0.036, 0.02, 0.012, 0.007, 0.007, 0.007, 0.007, 0.007, 0.007, 0.007, 0.007, 0.007, 0.008, 0.007, 0.007, 0.008, 0.008, 0.008, 0.008, 0.008, 0.007, 0.008, 0.009, 0.009, 0.009, 0.009, 0.009, 0.009, 0.01, 0.01, 0.01, 0.012, 0.011, 0.011, 0.011, 0.011, 0.012, 0.014, 0.014, 0.014, 0.016, 0.08, 0.07, 0.06, 0.15, 0.12]
s6_gcts = [5.1e-5, 3.7e-5, 3.3e-5, 2.5e-5, 3.3e-5, 2.7e-5, 2.0e-5, 2.0e-5, 2.0e-5, 1.19e-5, 1.7e-5, 1.7e-5, 1.19e-5, 1.38e-5, 1.44e-5, 1.32e-5, 1.11e-5, 9.8e-6, 5.9e-6, 8.1e-6, 8.3e-6, 7.9e-6, 5.9e-6, 3.3e-6, 4.0e-6, 3.8e-6, 4.4e-6, 3.8e-6, 3.1e-6, 3.8e-6, 2.9e-6, 1.66e-6, 3.3e-6, 2.8e-6, 1.4e-6, 2.8e-6, 2.4e-6, 3.3e-6, 2.35e-6, 3.1e-6, 2.85e-6, 2.9e-6, 5.5e-6, 2.9e-6, 4.0e-6, 2.1e-6]
s6_grel = [0.03, 0.06, 0.08, 0.1, 0.1, 0.1, 0.1, 0.1, 0.1, 0.15, 0.12, 0.12, 0.15, 0.12, 0.12, 0.12, 0.12, 0.15, 0.3, 0.15, 0.15, 0.15, 0.2, 0.3, 0.25, 0.25, 0.25, 0.25, 0.25, 0.25, 0.3, 0.45, 0.25, 0.3, 0.5, 0.3, 0.3, 0.25, 0.3, 0.25, 0.25, 0.1, 0.08, 0.1, 0.08, 0.1]
s6_mE = [0.40, 0.45, 0.50, 0.55, 0.60, 0.65, 0.69, 0.73, 0.78, 0.83, 0.87, 0.91, 0.95, 0.99, 1.02, 1.05, 1.08, 1.11, 1.16, 1.21, 1.25, 1.29, 1.33, 1.38, 1.44, 1.49, 1.54, 1.60, 1.66, 1.72, 1.77, 1.80, 1.85, 1.90, 1.98, 2.05, 2.12, 2.20, 2.28, 2.34, 2.40, 2.45, 2.52]
s6_mcts = [3.4e-5, 3.45e-5, 3.5e-5, 3.4e-5, 3.7e-5, 4.7e-5, 4.2e-5, 3.6e-5, 3.8e-5, 3.8e-5, 3.6e-5, 3.2e-5, 2.7e-5, 3.0e-5, 2.5e-5, 1.7e-5, 1.16e-5, 9.4e-6, 8.6e-6, 8.1e-6, 7.0e-6, 6.3e-6, 4.9e-6, 4.0e-6, 3.8e-6, 3.0e-6, 2.55e-6, 2.05e-6, 2.3e-6, 3.8e-6, 5.5e-6, 5.5e-6, 3.1e-6, 1.66e-6, 1.13e-6, 9.4e-7, 9.4e-7, 8.3e-7, 7.2e-7, 9.4e-7, 1.46e-6, 1.4e-6, 8.3e-7]

labels = ['S1', 'S2', 'S3', 'S4', 'S5', 'S6']
box_colors = ['black', '#1030ff', '#ff00ff', '#ff1010', '#ff8000', '#00a000']

panels = [
    (s1_E, s1_dE, s1_cts, s1_rel, s1_ratio, s1_gE, s1_gdE, s1_gcts, s1_grel, s1_mE, s1_mcts),
    (s2_E, s2_dE, s2_cts, s2_rel, s2_ratio, s2_gE, s2_gdE, s2_gcts, s2_grel, s2_mE, s2_mcts),
    (s3_E, s3_dE, s3_cts, s3_rel, s3_ratio, s3_gE, s3_gdE, s3_gcts, s3_grel, s3_mE, s3_mcts),
    (s4_E, s4_dE, s4_cts, s4_rel, s4_ratio, s4_gE, s4_gdE, s4_gcts, s4_grel, s4_mE, s4_mcts),
    (s5_E, s5_dE, s5_cts, s5_rel, s5_ratio, s5_gE, s5_gdE, s5_gcts, s5_grel, s5_mE, s5_mcts),
    (s6_E, s6_dE, s6_cts, s6_rel, s6_ratio, s6_gE, s6_gdE, s6_gcts, s6_grel, s6_mE, s6_mcts),
]

W, H = 817, 798
rows = [(0.5, 183, 248), (255, 437, 503), (511, 693, 758)]
cols = [(53, 431), (438, 815)]

fig = plt.figure(figsize=(W / 100, H / 100), dpi=100)


def style_x(ax, bottom_labels):
    ax.set_xscale('log')
    ax.set_xlim(0.372, 2.86)
    ax.xaxis.set_major_locator(FixedLocator([0.5, 1, 2]))
    ax.xaxis.set_minor_locator(FixedLocator([0.4, 0.6, 0.7, 0.8, 0.9]))
    ax.xaxis.set_minor_formatter(NullFormatter())
    if bottom_labels:
        ax.xaxis.set_major_formatter(FixedFormatter(['0.5', '1', '']))
    else:
        ax.xaxis.set_major_formatter(NullFormatter())
    ax.tick_params(which='both', direction='in', top=True, right=True, width=1.0, labelsize=10)
    ax.tick_params(which='major', length=7)
    ax.tick_params(axis='x', which='major', pad=7)
    ax.tick_params(axis='y', which='major', pad=4, labelsize=9.5)
    ax.tick_params(which='minor', length=3.5)
    for sp in ax.spines.values():
        sp.set_linewidth(1.1)


for i, (E, dE, cts, rel, ratio, gE, gdE, gcts, grel, mE, mcts) in enumerate(panels):
    r, c = divmod(i, 2)
    top, split, bot = rows[r]
    x0, x1 = cols[c]
    ax = fig.add_axes([x0 / W, 1 - split / H, (x1 - x0) / W, (split - top) / H])
    axr = fig.add_axes([x0 / W, 1 - bot / H, (x1 - x0) / W, (bot - split) / H])

    E = np.array(E); cts = np.array(cts); rel = np.array(rel); ratio = np.array(ratio)
    gcts = np.array(gcts); grel = np.array(grel)

    ax.errorbar(gE, gcts, xerr=gdE, yerr=gcts * grel, fmt='none',
                ecolor='#c4c4c4', elinewidth=1.0, capsize=0, zorder=1)
    ax.errorbar(E, cts, xerr=dE, yerr=cts * rel, fmt='none',
                ecolor='black', elinewidth=1.4, capsize=0, zorder=2)
    ax.plot(mE, mcts, color='red', lw=1.6, zorder=3)

    ax.set_yscale('log')
    ax.set_ylim(1.6e-7, 1.62e-4)
    ax.yaxis.set_major_locator(LogLocator(base=10))
    ax.yaxis.set_minor_locator(LogLocator(base=10, subs=np.arange(2, 10)))
    ax.yaxis.set_minor_formatter(NullFormatter())
    style_x(ax, False)
    if c == 1:
        ax.yaxis.set_major_formatter(NullFormatter())

    ax.text(0.824, 0.862, 'Model F', transform=ax.transAxes, ha='center', va='center',
            fontsize=11.5, family='DejaVu Serif')
    ax.text(0.112, 0.2, labels[i], transform=ax.transAxes, ha='center', va='center',
            fontsize=14.5, family='Liberation Serif',
            bbox=dict(boxstyle='square,pad=0.42', fc='white', ec=box_colors[i], lw=2.2))

    axr.axhline(1.0, color='black', lw=1.0, zorder=1)
    axr.errorbar(E, ratio, xerr=dE, yerr=ratio * rel, fmt='none',
                 ecolor='black', elinewidth=1.4, capsize=0, zorder=2)
    axr.set_ylim(0.3, 2.72)
    axr.yaxis.set_major_locator(FixedLocator([1, 2]))
    axr.yaxis.set_minor_locator(MultipleLocator(0.2))
    axr.yaxis.set_major_formatter(FixedFormatter(['1', '2']))
    style_x(axr, r == 2)
    axr.tick_params(axis='y', which='major', pad=6)
    if c == 1:
        axr.yaxis.set_major_formatter(NullFormatter())
    else:
        fig.text(8 / W, 1 - ((top + split) / 2 + 4) / H,
                 r'Counts s$^{-1}$ keV$^{-1}$ cm$^{-2}$', rotation=90,
                 ha='center', va='center', fontsize=10, family='DejaVu Serif')
        fig.text(27 / W, 1 - ((split + bot) / 2) / H, 'Ratio', rotation=90,
                 ha='center', va='center', fontsize=11)
    if r == 2:
        fig.text((x0 + x1) / 2 / W, 1 - 789 / H, 'Energy (keV)',
                 ha='center', va='center', fontsize=11.5)

fig.savefig('out.png', dpi=100)
